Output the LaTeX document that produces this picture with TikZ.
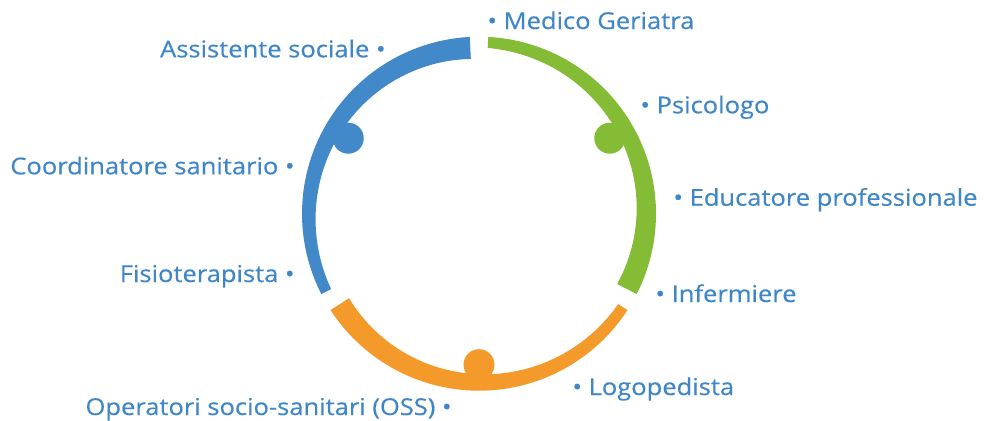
\documentclass[tikz,border=0pt]{standalone}
\usepackage{fontspec}
\setmainfont{Open Sans}[FakeStretch=1.1,FakeBold=0.4]
\definecolor{ringblue}{HTML}{4189C9}
\definecolor{ringgreen}{HTML}{84BC35}
\definecolor{ringorange}{HTML}{F39A2B}
\definecolor{labelblue}{HTML}{3F86C7}
\tikzset{
  lbl/.style={text=labelblue,font=\fontsize{11.6}{14}\selectfont,inner sep=0pt},
  lblr/.style={lbl,anchor=base west},
  lbll/.style={lbl,anchor=base east}
}
% one figure of the ring: colour, angle of the head
\newcommand{\ringperson}[2]{%
\fill[#1] ({#2-57}:\ro) arc[start angle={#2-57},end angle={#2+57},radius=\ro]
  -- plot[domain=0:1,samples=40,variable=\t] ({#2+57-114*\t}:{166-11*\t}) -- cycle;
\fill[#1] (#2:151) circle[radius=15.5];}
\begin{document}
\begin{tikzpicture}[x=0.5pt,y=0.5pt]
\useasboundingbox (0,0) rectangle (984,420);
\pgfmathsetmacro{\ro}{177}
\coordinate (O) at (479,206.3);
\begin{scope}[shift={(O)}]
\ringperson{ringblue}{150}
\ringperson{ringgreen}{30}
\ringperson{ringorange}{270}
\end{scope}
% right side
\node[lblr] (medico) at (487,391) {\textbullet\ Medico Geriatra};
\node[lblr] (psico) at (640,306.7) {\textbullet\ Psicologo};
\node[lblr] (educ) at (673,214.3) {\textbullet\ Educatore professionale};
\node[lblr] (inferm) at (655,118) {\textbullet\ Infermiere};
\node[lblr] (logo) at (572,25) {\textbullet\ Logopedista};
% left side
\node[lbll] (assist) at (386,362.7) {Assistente sociale \textbullet};
\node[lbll] (coord) at (295,245.7) {Coordinatore sanitario \textbullet};
\node[lbll] (fisio) at (295,138) {Fisioterapista \textbullet};
\node[lbll] (oss) at (452,5) {Operatori socio-sanitari (OSS) \textbullet};
\end{tikzpicture}
\end{document}
